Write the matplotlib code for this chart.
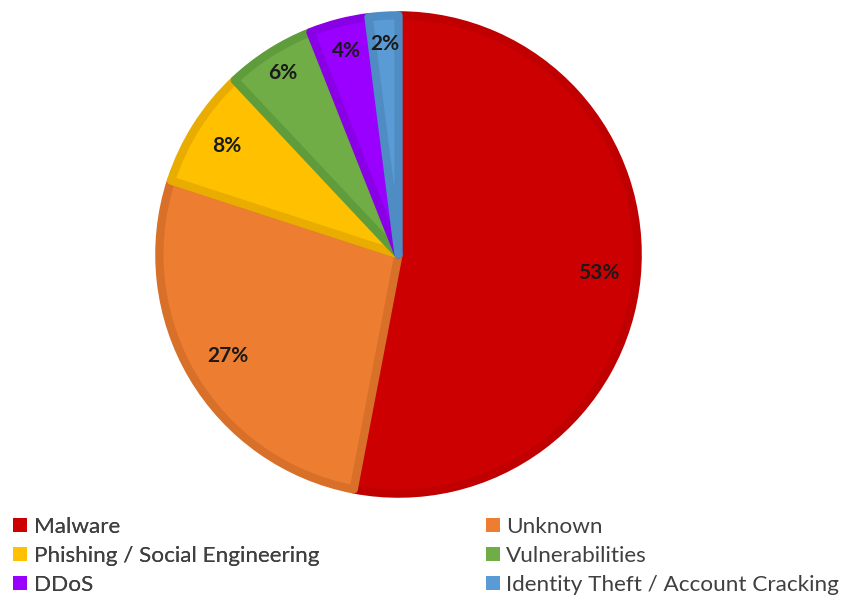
import numpy as np
import matplotlib
matplotlib.use('Agg')
import matplotlib.pyplot as plt
from matplotlib.patches import Patch

# ── Data ──────────────────────────────────────────────────────────────
categories = ['Malware', 'Unknown', 'Phishing / Social Engineering',
              'Vulnerabilities', 'DDoS', 'Identity Theft / Account Cracking']
shares = [53, 27, 8, 6, 4, 2]

# ── Palette ───────────────────────────────────────────────────────────
FILLS = ['#cc0000', '#ed7d31', '#ffc000', '#70ad47', '#9900ff', '#5b9bd5']
EDGES = ['#c00000', '#d8702a', '#e8ad00', '#5f9c3c', '#8a00e6', '#4f8cc4']
TEXT = '#404040'
LABEL_DIST = [0.84, 0.83, 0.85, 0.90, 0.88, 0.88]   # radial spot of each % label

plt.rcParams['font.family'] = ['Lato', 'DejaVu Sans']

fig = plt.figure(figsize=(8.41, 5.99), dpi=100)
fig.patch.set_facecolor('white')
ax = fig.add_axes([0.1837, 0.1678, 0.5803, 0.8147])

R = 0.98
wedges, texts, autotexts = ax.pie(
    shares, colors=FILLS, startangle=90, counterclock=False, radius=R,
    autopct=lambda p: f'{p:.0f}%',
    textprops=dict(fontsize=15, fontweight='bold', color='#1a1a1a'),
    wedgeprops=dict(linewidth=6, joinstyle='round'),
)
# darker inner border: thick edge clipped to the wedge itself
for w, ec in zip(wedges, EDGES):
    w.set_edgecolor(ec)
    w.set_clip_path(w)
# place each % label along its wedge's mid angle
for w, t, d in zip(wedges, autotexts, LABEL_DIST):
    mid = np.deg2rad((w.theta1 + w.theta2) / 2)
    t.set_position((d * R * np.cos(mid), d * R * np.sin(mid)))
ax.set_xlim(-1, 1)
ax.set_ylim(-1, 1)
ax.set_aspect('equal')
ax.axis('off')

# ── Legend: two columns ───────────────────────────────────────────────
handles = [Patch(facecolor=c, edgecolor='none') for c in FILLS]
leg_kw = dict(frameon=False, fontsize=16.2, labelcolor=TEXT,
              handlelength=0.6, handleheight=0.6, handletextpad=0.3,
              labelspacing=0.4, borderaxespad=0, borderpad=0)
left = fig.legend([handles[i] for i in (0, 2, 4)],
                  [categories[i] for i in (0, 2, 4)],
                  loc='upper left', bbox_to_anchor=(0.016, 0.137), **leg_kw)
right = fig.legend([handles[i] for i in (1, 3, 5)],
                   [categories[i] for i in (1, 3, 5)],
                   loc='upper left', bbox_to_anchor=(0.578, 0.137), **leg_kw)
fig.add_artist(left)

fig.savefig('out.png', dpi=100, facecolor='white')
